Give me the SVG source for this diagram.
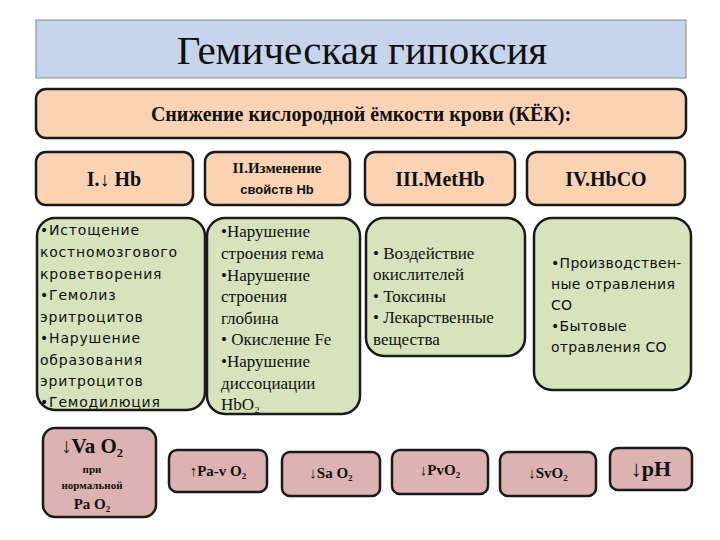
<svg xmlns="http://www.w3.org/2000/svg" width="720" height="540" viewBox="0 0 720 540">
<style>
.hd{fill:#fad2b4;stroke:#1a1a1a;stroke-width:2.5}
.gr{fill:#d6e3bc;stroke:#1a1a1a;stroke-width:2.5}
.pk{fill:#dcb2b2;stroke:#1a1a1a;stroke-width:2.5}
.sb{font-family:"Liberation Serif",serif;font-weight:bold;fill:#111}
.s{font-family:"Liberation Serif",serif;font-size:17px;fill:#111}
.a{font-family:"DejaVu Sans",sans-serif;font-size:14px;fill:#111}
</style>
<rect width="720" height="540" fill="#fff"/>
<g id="title"><rect x="36" y="20" width="650" height="58" fill="#c6d5ec" stroke="#888" stroke-width="1"/>
<text x="362" y="64" text-anchor="middle" font-family="Liberation Serif,serif" font-size="41" fill="#111">Гемическая гипоксия</text></g>
<g id="kek"><rect class="hd" x="36" y="89" width="650" height="49" rx="10"/>
<text class="sb" x="361" y="121" text-anchor="middle" font-size="20">Снижение кислородной ёмкости крови (КЁК):</text></g>
<g id="h1"><rect class="hd" x="36" y="152" width="157" height="53" rx="10"/><text class="sb" x="114" y="186" text-anchor="middle" font-size="20">I.↓ Hb</text></g>
<g id="h2"><rect class="hd" x="205" y="152" width="145" height="53" rx="10"/><text class="sb" x="277" y="173" text-anchor="middle" font-size="15">II.Изменение</text><text x="277" y="194" text-anchor="middle" font-family="Liberation Sans,sans-serif" font-weight="bold" font-size="13" fill="#111">свойств Hb</text></g>
<g id="h3"><rect class="hd" x="365" y="152" width="150" height="53" rx="10"/><text class="sb" x="440" y="186" text-anchor="middle" font-size="20">III.MetHb</text></g>
<g id="h4"><rect class="hd" x="527" y="152" width="158" height="53" rx="10"/><text class="sb" x="606" y="186" text-anchor="middle" font-size="20">IV.HbCO</text></g>
<g id="g1"><rect class="gr" x="37" y="218" width="168" height="192" rx="18"/>
<text class="a" font-size="15" letter-spacing="0.8"><tspan x="40" y="235">•Истощение</tspan><tspan x="40" y="257">костномозгового</tspan><tspan x="40" y="279">кроветворения</tspan><tspan x="40" y="300">•Гемолиз</tspan><tspan x="40" y="322">эритроцитов</tspan><tspan x="40" y="343">•Нарушение</tspan><tspan x="40" y="365">образования</tspan><tspan x="40" y="386">эритроцитов</tspan><tspan x="40" y="407">•Гемодилюция</tspan></text></g>
<g id="g2"><rect class="gr" x="207" y="218" width="153" height="196" rx="18"/>
<text class="s"><tspan x="221" y="237">•Нарушение</tspan><tspan x="221" y="259">строения гема</tspan><tspan x="221" y="281">•Нарушение</tspan><tspan x="221" y="302">строения</tspan><tspan x="221" y="324">глобина</tspan><tspan x="221" y="345">• Окисление Fe</tspan><tspan x="221" y="367">•Нарушение</tspan><tspan x="221" y="389">диссоциации</tspan><tspan x="221" y="410">HbO₂</tspan></text></g>
<g id="g3"><rect class="gr" x="366" y="218" width="159" height="138" rx="18"/>
<text class="s"><tspan x="373" y="259">• Воздействие</tspan><tspan x="373" y="280">окислителей</tspan><tspan x="373" y="302">• Токсины</tspan><tspan x="373" y="323">• Лекарственные</tspan><tspan x="373" y="345">вещества</tspan></text></g>
<g id="g4"><rect class="gr" x="534" y="218" width="157" height="172" rx="18"/>
<text class="a" letter-spacing="0.3"><tspan x="551" y="268">•Производствен-</tspan><tspan x="551" y="289">ные отравления</tspan><tspan x="551" y="310">CO</tspan><tspan x="551" y="331">•Бытовые</tspan><tspan x="551" y="352">отравления CO</tspan></text></g>
<g id="b1"><rect class="pk" x="43" y="428" width="113" height="89" rx="12"/><text class="sb" x="92" y="453" text-anchor="middle" font-size="21">↓Va O₂</text><text class="sb" x="92" y="473" text-anchor="middle" font-size="11">при</text><text class="sb" x="92" y="489" text-anchor="middle" font-size="11">нормальной</text><text class="sb" x="92" y="509" text-anchor="middle" font-size="15">Pa O₂</text></g>
<g id="b2"><rect class="pk" x="169" y="450" width="98" height="42" rx="8"/><text class="sb" x="218" y="476" text-anchor="middle" font-size="15">↑Pa-v O₂</text></g>
<g id="b3"><rect class="pk" x="282" y="452" width="98" height="44" rx="8"/><text class="sb" x="331" y="478" text-anchor="middle" font-size="15">↓Sa O₂</text></g>
<g id="b4"><rect class="pk" x="392" y="450" width="96" height="44" rx="8"/><text class="sb" x="440" y="475" text-anchor="middle" font-size="15">↓PvO₂</text></g>
<g id="b5"><rect class="pk" x="500" y="452" width="96" height="44" rx="8"/><text class="sb" x="548" y="478" text-anchor="middle" font-size="15">↓SvO₂</text></g>
<g id="b6"><rect class="pk" x="610" y="448" width="82" height="42" rx="8"/><text class="sb" x="651" y="476" text-anchor="middle" font-size="22">↓pH</text></g>
<g id="connectors"/>
</svg>
